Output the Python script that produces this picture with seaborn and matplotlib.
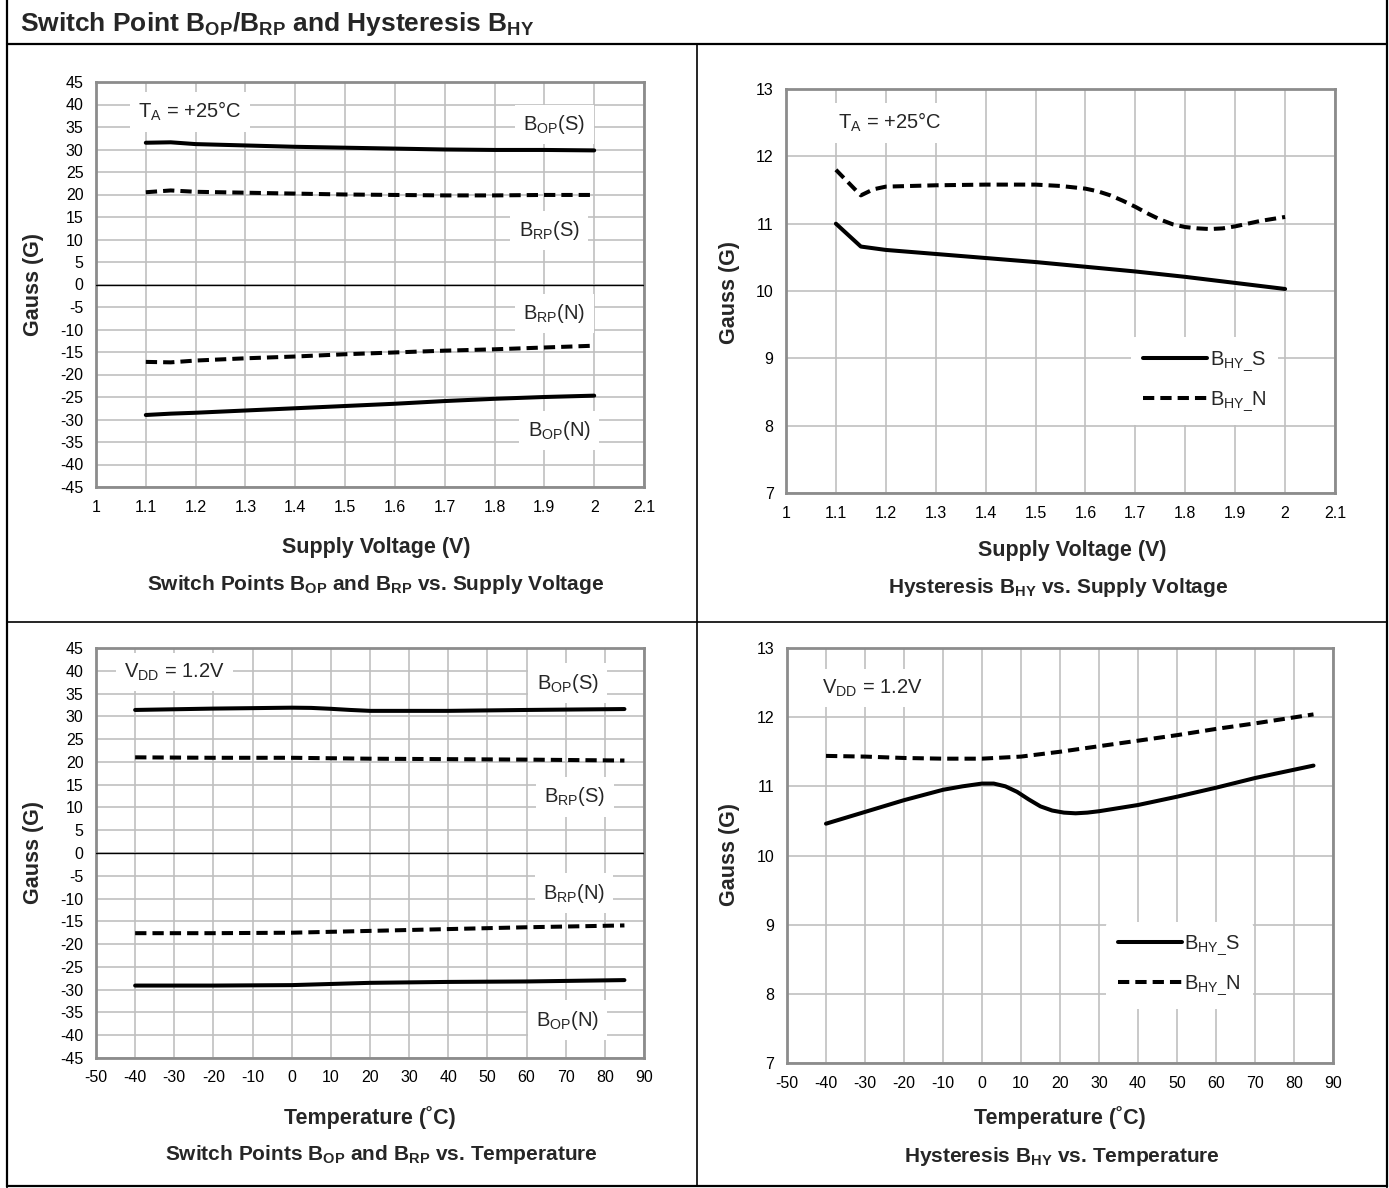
import matplotlib
matplotlib.use('Agg')
import matplotlib.pyplot as plt
import seaborn as sns
from matplotlib.lines import Line2D

# --- data ---
vdd = [1.1, 1.15, 1.2, 1.3, 1.4, 1.5, 1.6, 1.7, 1.8, 1.9, 2.0]
bop_s_vdd = [31.5, 31.6, 31.2, 30.9, 30.6, 30.4, 30.2, 30.0, 29.9, 29.9, 29.8]
brp_s_vdd = [20.5, 20.9, 20.6, 20.4, 20.2, 20.0, 19.9, 19.8, 19.8, 19.9, 19.9]
brp_n_vdd = [-17.2, -17.3, -16.9, -16.4, -16.0, -15.5, -15.1, -14.7, -14.4, -14.0, -13.6]
bop_n_vdd = [-29.0, -28.7, -28.5, -28.0, -27.5, -27.0, -26.5, -25.9, -25.4, -25.0, -24.7]

bhy_s_vdd = [11.0, 10.66, 10.61, 10.55, 10.49, 10.43, 10.36, 10.29, 10.21, 10.12, 10.03]
vdd_hy_n = [1.1, 1.15, 1.175, 1.2, 1.3, 1.4, 1.5, 1.55, 1.6, 1.625, 1.65, 1.675, 1.7, 1.725,
            1.75, 1.775, 1.8, 1.825, 1.85, 1.875, 1.9, 1.95, 2.0]
bhy_n_vdd = [11.8, 11.42, 11.51, 11.55, 11.57, 11.58, 11.58, 11.56, 11.52, 11.48, 11.42,
             11.34, 11.25, 11.15, 11.06, 10.99, 10.95, 10.93, 10.92, 10.93, 10.96, 11.04, 11.1]

temp_op_s = [-40, -20, 0, 5, 10, 15, 20, 40, 60, 85]
bop_s_temp = [31.4, 31.7, 31.9, 31.85, 31.65, 31.4, 31.2, 31.2, 31.4, 31.6]
temp = [-40, -20, 0, 20, 40, 60, 85]
brp_s_temp = [21.0, 20.9, 20.9, 20.7, 20.6, 20.5, 20.3]
brp_n_temp = [-17.6, -17.6, -17.5, -17.1, -16.7, -16.3, -15.9]
bop_n_temp = [-29.1, -29.1, -29.0, -28.5, -28.3, -28.2, -27.9]

temp_hy_s = [-40, -30, -20, -10, -5, 0, 3, 6, 9, 12, 15, 18, 21, 24, 27, 30, 40, 50, 60,
             70, 85]
bhy_s_temp = [10.46, 10.63, 10.8, 10.95, 11.0, 11.04, 11.04, 11.0, 10.92, 10.81, 10.71,
              10.65, 10.62, 10.61, 10.62, 10.64, 10.73, 10.85, 10.98, 11.12, 11.3]
temp_hy_n = [-40, -30, -20, -10, 0, 10, 20, 30, 40, 50, 60, 70, 85]
bhy_n_temp = [11.44, 11.43, 11.41, 11.40, 11.40, 11.43, 11.50, 11.58, 11.66, 11.74, 11.83,
              11.91, 12.04]

vdd_ticks = [1, 1.1, 1.2, 1.3, 1.4, 1.5, 1.6, 1.7, 1.8, 1.9, 2, 2.1]
vdd_labels = ['1', '1.1', '1.2', '1.3', '1.4', '1.5', '1.6', '1.7', '1.8', '1.9', '2', '2.1']
temp_ticks = list(range(-50, 91, 10))
temp_labels = [str(t) for t in temp_ticks]
sw_ticks = list(range(-45, 46, 5))
hy_ticks = [7, 8, 9, 10, 11, 12, 13]

sns.set_theme(style='white')
plt.rcParams['font.family'] = ['Liberation Sans', 'DejaVu Sans']
plt.rcParams['mathtext.fontset'] = 'custom'
plt.rcParams['mathtext.rm'] = 'Liberation Sans'
plt.rcParams['mathtext.it'] = 'Liberation Sans:italic'
plt.rcParams['mathtext.bf'] = 'Liberation Sans:bold'

W, H = 1389, 1188
fig = plt.figure(figsize=(W / 100, H / 100), dpi=100)
fig.patch.set_facecolor('white')

SOLID = '-'
DASH = (0, (2.8, 1.5))
LW = 2.9
GRID = '#c0c0c0'
SPINE = '#8c8c8c'


def px_axes(l, t, r, b):
    return fig.add_axes([l / W, 1 - b / H, (r - l) / W, (b - t) / H])


def style_axes(ax, xlim, xticks, xlabels, ylim, yticks):
    ax.set_xlim(*xlim)
    ax.set_ylim(*ylim)
    ax.set_xticks(xticks)
    ax.set_xticklabels(xlabels)
    ax.set_yticks(yticks)
    ax.set_yticklabels([str(v) for v in yticks])
    ax.tick_params(length=0, labelsize=11.5, colors='black')
    ax.tick_params(axis='x', pad=9)
    ax.tick_params(axis='y', pad=9)
    ax.grid(True, color=GRID, lw=1.2)
    ax.set_axisbelow(True)
    for s in ax.spines.values():
        s.set_visible(True)
        s.set_color(SPINE)
        s.set_linewidth(2)
    ax.set_xlabel('')
    ax.set_ylabel('')


def note(ax, x, y, s, ha='center'):
    ax.text(x, y, s, fontsize=14.5, ha=ha, va='center', zorder=6,
            bbox=dict(facecolor='white', edgecolor='none', pad=6))


def line(ax, x, y, ls, label=None):
    sns.lineplot(x=x, y=y, ax=ax, color='black', lw=LW, linestyle=ls, label=label,
                 legend=False, zorder=4)


def add_legend(ax, anchor):
    leg = ax.legend(loc='upper left', bbox_to_anchor=anchor, frameon=True,
                    facecolor='white', edgecolor='none', framealpha=1, fontsize=14.5,
                    handlelength=3.2, handletextpad=0.1, labelspacing=0.8, borderpad=0.6)
    leg.set_zorder(6)


# --- top left ---
ax1 = px_axes(96, 82, 644, 487)
line(ax1, vdd, bop_s_vdd, SOLID)
line(ax1, vdd, brp_s_vdd, DASH)
line(ax1, vdd, brp_n_vdd, DASH)
line(ax1, vdd, bop_n_vdd, SOLID)
style_axes(ax1, (1, 2.1), vdd_ticks, vdd_labels, (-45, 45), sw_ticks)
ax1.axhline(0, color='black', lw=1, zorder=3)
note(ax1, 1.085, 38.4, r'$\mathrm{T_A}$ = +25°C', ha='left')
note(ax1, 1.92, 35.6, r'$\mathrm{B_{OP}(S)}$')
note(ax1, 1.91, 12.0, r'$\mathrm{B_{RP}(S)}$')
note(ax1, 1.92, -6.4, r'$\mathrm{B_{RP}(N)}$')
note(ax1, 1.93, -32.4, r'$\mathrm{B_{OP}(N)}$')

# --- top right ---
ax2 = px_axes(786, 89, 1335, 493)
line(ax2, vdd, bhy_s_vdd, SOLID, r'$\mathrm{B_{HY\_}S}$')
line(ax2, vdd_hy_n, bhy_n_vdd, DASH, r'$\mathrm{B_{HY\_}N}$')
style_axes(ax2, (1, 2.1), vdd_ticks, vdd_labels, (7, 13), hy_ticks)
note(ax2, 1.105, 12.5, r'$\mathrm{T_A}$ = +25°C', ha='left')
add_legend(ax2, (0.61, 0.41))

# --- bottom left ---
ax3 = px_axes(96, 648, 644, 1058)
line(ax3, temp_op_s, bop_s_temp, SOLID)
line(ax3, temp, brp_s_temp, DASH)
line(ax3, temp, brp_n_temp, DASH)
line(ax3, temp, bop_n_temp, SOLID)
style_axes(ax3, (-50, 90), temp_ticks, temp_labels, (-45, 45), sw_ticks)
ax3.axhline(0, color='black', lw=1, zorder=3)
note(ax3, -42.8, 39.7, r'$\mathrm{V_{DD}}$ = 1.2V', ha='left')
note(ax3, 70.5, 37.3, r'$\mathrm{B_{OP}(S)}$')
note(ax3, 72.3, 12.3, r'$\mathrm{B_{RP}(S)}$')
note(ax3, 72.1, -8.8, r'$\mathrm{B_{RP}(N)}$')
note(ax3, 70.5, -36.7, r'$\mathrm{B_{OP}(N)}$')

# --- bottom right ---
ax4 = px_axes(787, 648, 1333, 1063)
line(ax4, temp_hy_s, bhy_s_temp, SOLID, r'$\mathrm{B_{HY\_}S}$')
line(ax4, temp_hy_n, bhy_n_temp, DASH, r'$\mathrm{B_{HY\_}N}$')
style_axes(ax4, (-50, 90), temp_ticks, temp_labels, (7, 13), hy_ticks)
note(ax4, -41, 12.42, r'$\mathrm{V_{DD}}$ = 1.2V', ha='left')
add_legend(ax4, (0.565, 0.365))

# --- axis titles and captions ---
def ftext(x, y, s, size=15, **kw):
    fig.text(x / W, 1 - y / H, s, fontsize=size, fontweight='bold', ha='center',
             va='center', **kw)

ftext(376, 548, 'Supply Voltage (V)', 15.5)
ftext(376, 584, r'Switch Points $\mathbf{B_{OP}}$ and $\mathbf{B_{RP}}$ vs. Supply Voltage')
ftext(1072, 550, 'Supply Voltage (V)', 15.5)
ftext(1058, 587, r'Hysteresis $\mathbf{B_{HY}}$ vs. Supply Voltage')
ftext(370, 1118, 'Temperature (˚C)', 15.5)
ftext(381, 1155, r'Switch Points $\mathbf{B_{OP}}$ and $\mathbf{B_{RP}}$ vs. Temperature')
ftext(1060, 1118, 'Temperature (˚C)', 15.5)
ftext(1062, 1156, r'Hysteresis $\mathbf{B_{HY}}$ vs. Temperature')
ftext(33, 285, 'Gauss (G)', 15.5, rotation=90)
ftext(730, 292, 'Gauss (G)', 15.5, rotation=90)
ftext(33, 853, 'Gauss (G)', 15.5, rotation=90)
ftext(730, 855, 'Gauss (G)', 15.5, rotation=90)

fig.text(20 / W, 1 - 31 / H,
         r'Switch Point $\mathbf{B_{OP}}$/$\mathbf{B_{RP}}$ and Hysteresis $\mathbf{B_{HY}}$',
         fontsize=19, fontweight='bold', ha='left', va='baseline')

# --- frame lines ---
def fline(x0, y0, x1, y1, lw=1.6):
    fig.add_artist(Line2D([x0 / W, x1 / W], [1 - y0 / H, 1 - y1 / H],
                          transform=fig.transFigure, color='black', lw=lw))

fline(7, 0, 7, 1187)
fline(1387, 0, 1387, 1187)
fline(7, 1186, 1387, 1186)
fline(7, 44, 1387, 44)
fline(697, 44, 697, 1186, lw=1.2)
fline(7, 622, 1387, 622, lw=1.2)

fig.savefig('out.png', dpi=100, facecolor='white')
